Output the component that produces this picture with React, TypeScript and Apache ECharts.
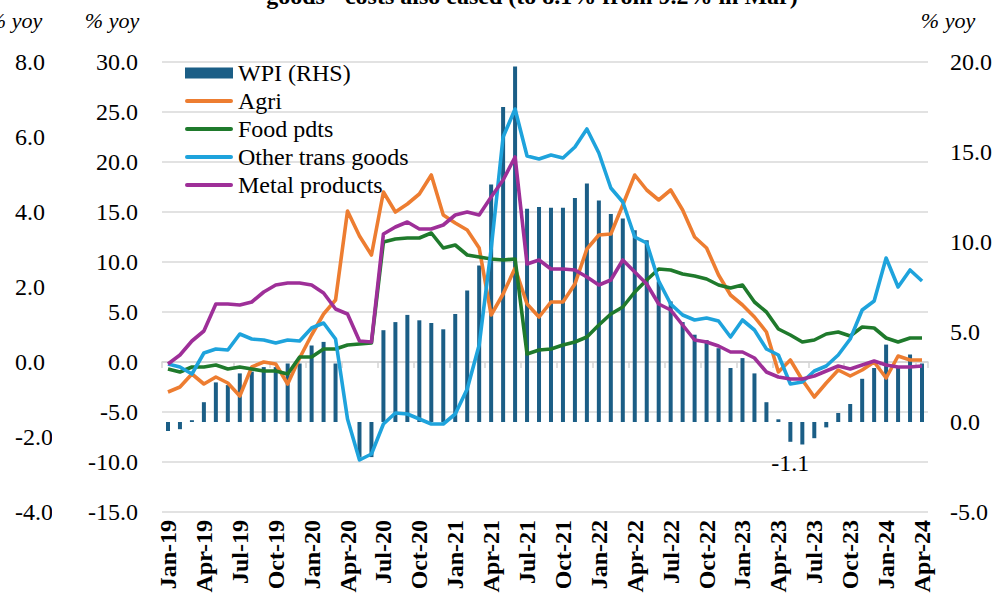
import React, { useEffect, useRef } from "react";
import * as echarts from "echarts";

const categories = [
  "Jan-19","Feb-19","Mar-19","Apr-19","May-19","Jun-19","Jul-19","Aug-19","Sep-19","Oct-19","Nov-19","Dec-19",
  "Jan-20","Feb-20","Mar-20","Apr-20","May-20","Jun-20","Jul-20","Aug-20","Sep-20","Oct-20","Nov-20","Dec-20",
  "Jan-21","Feb-21","Mar-21","Apr-21","May-21","Jun-21","Jul-21","Aug-21","Sep-21","Oct-21","Nov-21","Dec-21",
  "Jan-22","Feb-22","Mar-22","Apr-22","May-22","Jun-22","Jul-22","Aug-22","Sep-22","Oct-22","Nov-22","Dec-22",
  "Jan-23","Feb-23","Mar-23","Apr-23","May-23","Jun-23","Jul-23","Aug-23","Sep-23","Oct-23","Nov-23","Dec-23",
  "Jan-24","Feb-24","Mar-24","Apr-24",
];

// WPI (RHS), % yoy
const wpi = [
  -0.5, -0.4, 0.1, 1.1, 2.2, 2.05, 2.7, 2.8, 3.05, 3.05, 3.25, 3.25,
  4.25, 4.45, 3.25, 0, -1.95, -1.95, 5.1, 5.55, 5.95, 5.65, 5.5, 5.15,
  6.0, 7.3, 8.7, 13.2, 17.5, 19.75, 11.85, 11.95, 11.9, 11.9, 12.45, 13.25,
  12.3, 11.55, 11.3, 10.65, 10.1, 7.8, 6.7, 5.55, 4.85, 4.55, 4.1, 3.0,
  3.55, 2.7, 1.1, 0.15, -1.1, -1.25, -0.9, -0.3, 0.5, 1.0, 2.4, 3.0,
  4.3, 3.05, 3.75, 3.25,
];

const agri = [
  -3.0, -2.5, -1.2, -2.2, -1.5, -2.1, -3.4, -0.5, 0.0, -0.2, -2.2, 0.4,
  2.7, 4.8, 6.2, 15.1, 12.6, 10.7, 17.0, 15.0, 15.8, 16.8, 18.7, 14.7,
  13.9, 13.2, 11.4, 4.7, 6.8, 9.4, 5.8, 4.5, 6.0, 6.0, 7.8, 11.3,
  12.7, 12.8, 15.7, 18.7, 17.2, 16.2, 17.2, 15.2, 12.5, 11.4, 8.7, 6.7,
  5.7, 4.5, 3.0, -1.0, 0.2, -1.8, -3.5, -2.1, -0.8, -1.4, -0.8, 0.0,
  -1.6, 0.6, 0.2, 0.2,
];

const foodPdts = [
  -0.7, -1.0, -0.5, -0.5, -0.3, -0.7, -0.5, -0.7, -0.9, -0.9, -1.2, 0.5,
  0.5, 1.3, 1.3, 1.7, 1.8, 1.9, 12.0, 12.3, 12.4, 12.4, 12.9, 11.4,
  11.7, 10.7, 10.5, 10.3, 10.2, 10.3, 0.8, 1.2, 1.3, 1.7, 2.0, 2.5,
  3.7, 4.8, 5.5, 7.0, 8.2, 9.3, 9.2, 8.8, 8.6, 8.3, 7.7, 7.4,
  7.7, 6.0, 5.0, 3.3, 2.7, 2.0, 2.2, 2.8, 3.0, 2.6, 3.5, 3.4,
  2.4, 2.0, 2.4, 2.4,
];

const otherTransGoods = [
  -0.2, -0.5, -1.2, 0.9, 1.3, 1.2, 2.8, 2.3, 2.2, 1.9, 2.2, 2.1,
  3.4, 3.9, 2.3, -5.7, -9.8, -9.2, -6.2, -5.1, -5.2, -5.7, -6.2, -6.2,
  -5.2, -2.7, 1.7, 11.3, 22.5, 25.3, 20.6, 20.3, 20.7, 20.4, 21.5, 23.3,
  20.9, 17.4, 16.0, 12.5, 11.9, 8.1, 5.8, 4.7, 4.2, 4.4, 4.1, 2.5,
  4.2, 3.2, 1.3, 0.7, -2.2, -2.0, -0.9, -0.4, 0.7, 2.3, 5.2, 6.1,
  10.4, 7.5, 9.2, 8.1,
];

const metalProducts = [
  -0.2, 0.7, 2.1, 3.1, 5.8, 5.8, 5.7, 6.0, 7.0, 7.7, 7.9, 7.9,
  7.7, 6.9, 5.3, 4.8, 2.1, 2.0, 12.8, 13.5, 14.0, 13.3, 13.3, 13.7,
  14.7, 15.0, 14.7, 16.5, 18.2, 20.5, 9.8, 10.2, 9.3, 9.3, 9.2, 8.5,
  7.7, 8.2, 10.2, 9.0, 7.8, 5.8, 5.2, 3.7, 2.2, 2.0, 1.6, 1.0,
  1.0, 0.4, -1.0, -1.5, -1.7, -1.7, -1.4, -0.9, -0.4, -0.7, -0.3, 0.1,
  -0.3, -0.5, -0.5, -0.4,
];

const seriesNames = ["WPI (RHS)", "Agri", "Food pdts", "Other trans goods", "Metal products"];
const colors = ["#1B5E86", "#ED7D31", "#1F7A2C", "#1EA3DC", "#9E2F98"];
const annotatedMonth = "May-23";
const titleText = "goods - costs also eased (to 8.1% from 9.2% in Mar)";
const unitText = "% yoy";

const FONT = "'Liberation Serif', 'Times New Roman', serif";
const LINE_ICON = "path://M2,0 L46,0 A2,2 0 0 1 46,4 L2,4 A2,2 0 0 1 2,0 Z";

export default function App() {
  const ref = useRef<HTMLDivElement>(null);

  useEffect(() => {
    document.body.style.margin = "0";
    const chart = echarts.init(ref.current!, null, { renderer: "svg" });
    const annIdx = categories.indexOf(annotatedMonth);
    const barData = wpi.map((v, i) =>
      i === annIdx
        ? {
            value: v,
            label: {
              show: true,
              position: "bottom",
              distance: 9,
              formatter: v.toFixed(1),
              color: "#000",
              fontFamily: FONT,
              fontSize: 24,
            },
          }
        : v
    );

    const lineSeries = [agri, foodPdts, otherTransGoods, metalProducts].map((d, k) => ({
      name: seriesNames[k + 1],
      type: "line",
      xAxisIndex: 0,
      yAxisIndex: 0,
      data: d,
      symbol: "none",
      showSymbol: false,
      lineStyle: { color: colors[k + 1], width: 3.6, join: "round" },
      itemStyle: { color: colors[k + 1] },
      z: 3 + k,
    }));

    const labelStyle = { color: "#000", fontFamily: FONT, fontSize: 24 };

    const option = {
      animation: false,
      backgroundColor: "#fff",
      grid: { left: 162, right: 76, top: 62, bottom: 95, containLabel: false },
      legend: {
        orient: "vertical",
        left: 180,
        top: 56,
        itemWidth: 48,
        itemHeight: 11,
        itemGap: 4,
        symbolKeepAspect: true,
        data: seriesNames.map((n, i) => (i === 0 ? { name: n, icon: "rect" } : { name: n, icon: LINE_ICON })),
        textStyle: { color: "#000", fontFamily: FONT, fontSize: 24, lineHeight: 24 },
      },
      xAxis: [
        {
          type: "category",
          data: categories,
          position: "bottom",
          boundaryGap: true,
          axisLine: { show: false, onZero: false },
          axisTick: { show: false },
          axisLabel: {
            interval: 2,
            rotate: 90,
            margin: 8,
            ...labelStyle,
            fontWeight: "bold",
          },
          splitLine: { show: false },
        },
        {
          type: "category",
          data: categories,
          position: "bottom",
          boundaryGap: true,
          axisLine: { show: true, onZero: true, onZeroAxisIndex: 0, lineStyle: { color: "#d4d4d4", width: 1.5 } },
          axisTick: { show: true, interval: 2, length: 6, lineStyle: { color: "#d4d4d4", width: 1.5 } },
          axisLabel: { show: false },
          splitLine: { show: false },
        },
      ],
      yAxis: [
        {
          type: "value",
          position: "left",
          min: -15,
          max: 30,
          interval: 5,
          axisLine: { show: false },
          axisTick: { show: false },
          axisLabel: { margin: 24, formatter: (v: number) => v.toFixed(1), ...labelStyle },
          splitLine: { show: true, lineStyle: { color: "#d9d9d9", width: 1.5 } },
        },
        {
          type: "value",
          position: "right",
          min: -5,
          max: 20,
          interval: 5,
          axisLine: { show: false },
          axisTick: { show: false },
          axisLabel: { margin: 22, formatter: (v: number) => v.toFixed(1), ...labelStyle },
          splitLine: { show: false },
        },
        {
          type: "value",
          position: "left",
          offset: 140,
          min: -4,
          max: 8,
          interval: 2,
          axisLine: { show: false },
          axisTick: { show: false },
          axisLabel: { margin: 7, align: "left", formatter: (v: number) => v.toFixed(1), ...labelStyle },
          splitLine: { show: false },
        },
      ],
      series: [
        {
          name: seriesNames[0],
          type: "bar",
          xAxisIndex: 0,
          yAxisIndex: 1,
          data: barData,
          barWidth: 4,
          itemStyle: { color: colors[0] },
          z: 2,
        },
        ...lineSeries,
      ],
      graphic: [
        {
          type: "rect",
          shape: { x: 52, y: 420, width: 20, height: 110 },
          style: { fill: "#fff" },
          z: 100,
        },
        {
          type: "text",
          x: 532,
          y: -4,
          style: {
            text: titleText,
            fontFamily: FONT,
            fontSize: 24,
            fontWeight: "bold",
            fill: "#000",
            align: "center",
            verticalAlign: "middle",
          },
          z: 100,
        },
        {
          type: "text",
          x: 112,
          y: 20,
          style: { text: unitText, fontFamily: FONT, fontSize: 22, fontStyle: "italic", fill: "#000", align: "center", verticalAlign: "middle" },
        },
        {
          type: "text",
          x: 15,
          y: 20,
          style: { text: unitText, fontFamily: FONT, fontSize: 22, fontStyle: "italic", fill: "#000", align: "center", verticalAlign: "middle" },
        },
        {
          type: "text",
          x: 948,
          y: 20,
          style: { text: unitText, fontFamily: FONT, fontSize: 22, fontStyle: "italic", fill: "#000", align: "center", verticalAlign: "middle" },
        },
      ],
    };

    chart.setOption(option as any);
    return () => chart.dispose();
  }, []);

  return <div ref={ref} style={{ width: 1004, height: 607 }} />;
}
